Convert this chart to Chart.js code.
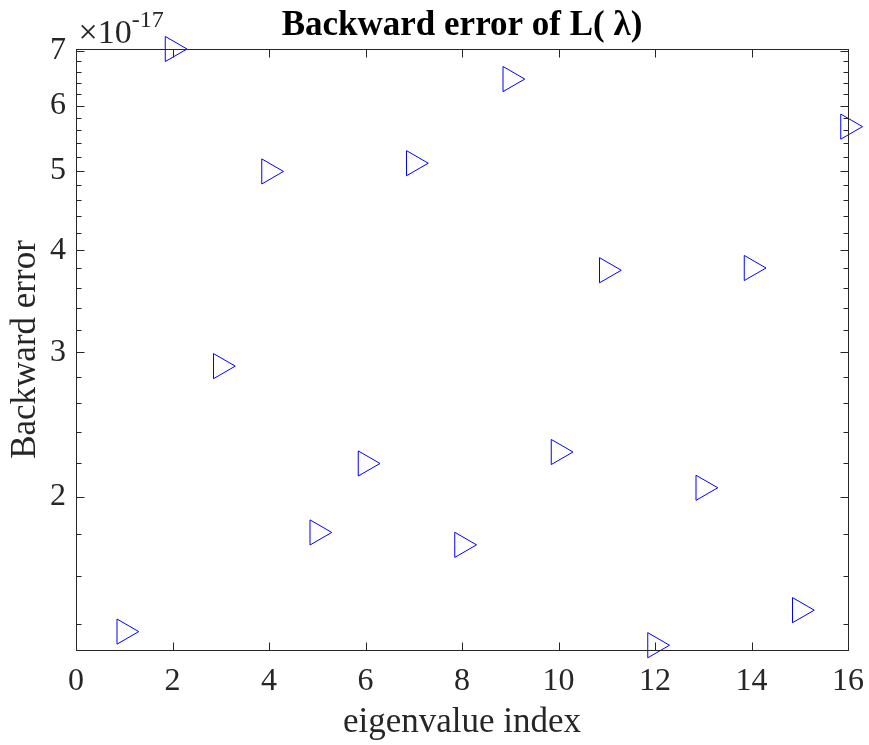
<html>
  <head>
    <script src="https://cdn.jsdelivr.net/npm/chart.js@4/dist/chart.umd.min.js"></script>
    <style>
      body { margin: 0; background: #fff; }
    </style>
  </head>
  <body>
    <canvas id="myChart" width="869" height="745"></canvas>
    <script>
      // eigenvalue index vs backward error (values in units of 1e-17)
      const eigIndex = [1, 2, 3, 4, 5, 6, 7, 8, 9, 10, 11, 12, 13, 14, 15, 16];
      const backwardError = [
        1.369e-17, 7.04e-17, 2.887e-17, 4.99e-17, 1.809e-17, 2.196e-17,
        5.107e-17, 1.747e-17, 6.47e-17, 2.268e-17, 3.78e-17, 1.3175e-17,
        2.051e-17, 3.804e-17, 1.454e-17, 5.66e-17
      ];
      const yExponent = -17;
      const yMajorTicks = [2, 3, 4, 5, 6, 7];
      const yMinorTicks = [
        1.4, 1.6, 1.8, 2.2, 2.4, 2.6, 2.8, 3.2, 3.4, 3.6, 3.8,
        4.2, 4.4, 4.6, 4.8, 5.2, 5.4, 5.6, 5.8, 6.2, 6.4, 6.6, 6.8
      ];
      const xTicks = [0, 2, 4, 6, 8, 10, 12, 14, 16];
      const yMin = 1.3175e-17;
      const yMax = 7.04e-17;

      const axisColor = "#262626";
      const serif = "'Liberation Serif', 'Times New Roman', serif";
      const scaleF = Math.pow(10, yExponent);

      Chart.defaults.font.family = serif;
      Chart.defaults.color = axisColor;

      // MATLAB style box with inward ticks on all four sides
      const matlabAxes = {
        id: "matlabAxes",
        afterDraw(chart) {
          const ctx = chart.ctx;
          const a = chart.chartArea;
          const xs = chart.scales.x;
          const ys = chart.scales.y;
          const L = Math.round(a.left) + 0.5;
          const R = Math.round(a.right) + 0.5;
          const T = Math.round(a.top) + 0.5;
          const B = Math.round(a.bottom) + 0.5;
          ctx.save();
          ctx.strokeStyle = axisColor;
          ctx.lineWidth = 1;
          ctx.strokeRect(L, T, R - L, B - T);
          ctx.beginPath();
          const yAll = yMajorTicks.map(v => [v, 8]).concat(yMinorTicks.map(v => [v, 5]));
          yAll.forEach(([v, len]) => {
            const py = Math.round(ys.getPixelForValue(v * scaleF)) + 0.5;
            ctx.moveTo(L, py);
            ctx.lineTo(L + len, py);
            ctx.moveTo(R, py);
            ctx.lineTo(R - len, py);
          });
          xTicks.forEach(v => {
            const px = Math.round(xs.getPixelForValue(v)) + 0.5;
            ctx.moveTo(px, B);
            ctx.lineTo(px, B - 8);
            ctx.moveTo(px, T);
            ctx.lineTo(px, T + 8);
          });
          ctx.stroke();

          // exponent label
          ctx.fillStyle = axisColor;
          ctx.textBaseline = "alphabetic";
          ctx.textAlign = "left";
          ctx.font = "34px " + serif;
          const base = "\u00d710";
          ctx.fillText(base, L + 2, 43);
          const w = ctx.measureText(base).width;
          ctx.font = "24px " + serif;
          ctx.fillText(String(yExponent), L + 2 + w, 27);
          ctx.restore();
        }
      };

      const ctx = document.getElementById("myChart").getContext("2d");
      const chart = new Chart(ctx, {
        type: "scatter",
        data: {
          datasets: [
            {
              data: eigIndex.map((x, i) => ({ x: x, y: backwardError[i] })),
              pointStyle: "triangle",
              rotation: 90,
              radius: 14.5,
              hoverRadius: 14.5,
              borderColor: "#0000ff",
              backgroundColor: "rgba(0,0,0,0)",
              borderWidth: 1,
              clip: false
            }
          ]
        },
        options: {
          responsive: false,
          animation: false,
          layout: { padding: { left: 0, right: 21, top: 0, bottom: 0 } },
          plugins: {
            legend: { display: false },
            tooltip: { enabled: false },
            title: {
              display: true,
              fullSize: false,
              text: "Backward error of L( \u03bb)",
              color: "#000",
              font: { size: 35, weight: "bold", family: serif, lineHeight: 1.2 },
              padding: { top: 5, bottom: 2 }
            }
          },
          scales: {
            x: {
              type: "linear",
              min: 0,
              max: 16,
              grid: { display: false, drawTicks: false },
              border: { display: false },
              afterBuildTicks: axis => {
                axis.ticks = xTicks.map(v => ({ value: v }));
              },
              afterFit: axis => {
                axis.height = 95;
                axis.paddingLeft = 0;
                axis.paddingRight = 0;
              },
              ticks: {
                font: { size: 32 },
                padding: 12,
                maxRotation: 0,
                autoSkip: false
              },
              title: {
                display: true,
                text: "eigenvalue index",
                font: { size: 35, lineHeight: 1.2 },
                padding: { top: 0, bottom: 1 }
              }
            },
            y: {
              type: "logarithmic",
              min: yMin,
              max: yMax,
              grid: { display: false, drawTicks: false },
              border: { display: false },
              afterBuildTicks: axis => {
                axis.ticks = yMajorTicks.concat(yMinorTicks)
                  .sort((p, q) => p - q)
                  .map(v => ({ value: v * scaleF }));
              },
              afterFit: axis => {
                axis.width = 76;
                axis.paddingTop = 0;
                axis.paddingBottom = 0;
              },
              ticks: {
                font: { size: 32 },
                padding: 10,
                autoSkip: false,
                callback: value => {
                  const v = Math.round((value / scaleF) * 10) / 10;
                  return yMajorTicks.includes(v) ? String(v) : "";
                }
              },
              title: {
                display: true,
                text: "Backward error",
                font: { size: 35, lineHeight: 1.2 },
                padding: { top: 5, bottom: 0 }
              }
            }
          }
        },
        plugins: [matlabAxes]
      });
    </script>
  </body>
</html>
